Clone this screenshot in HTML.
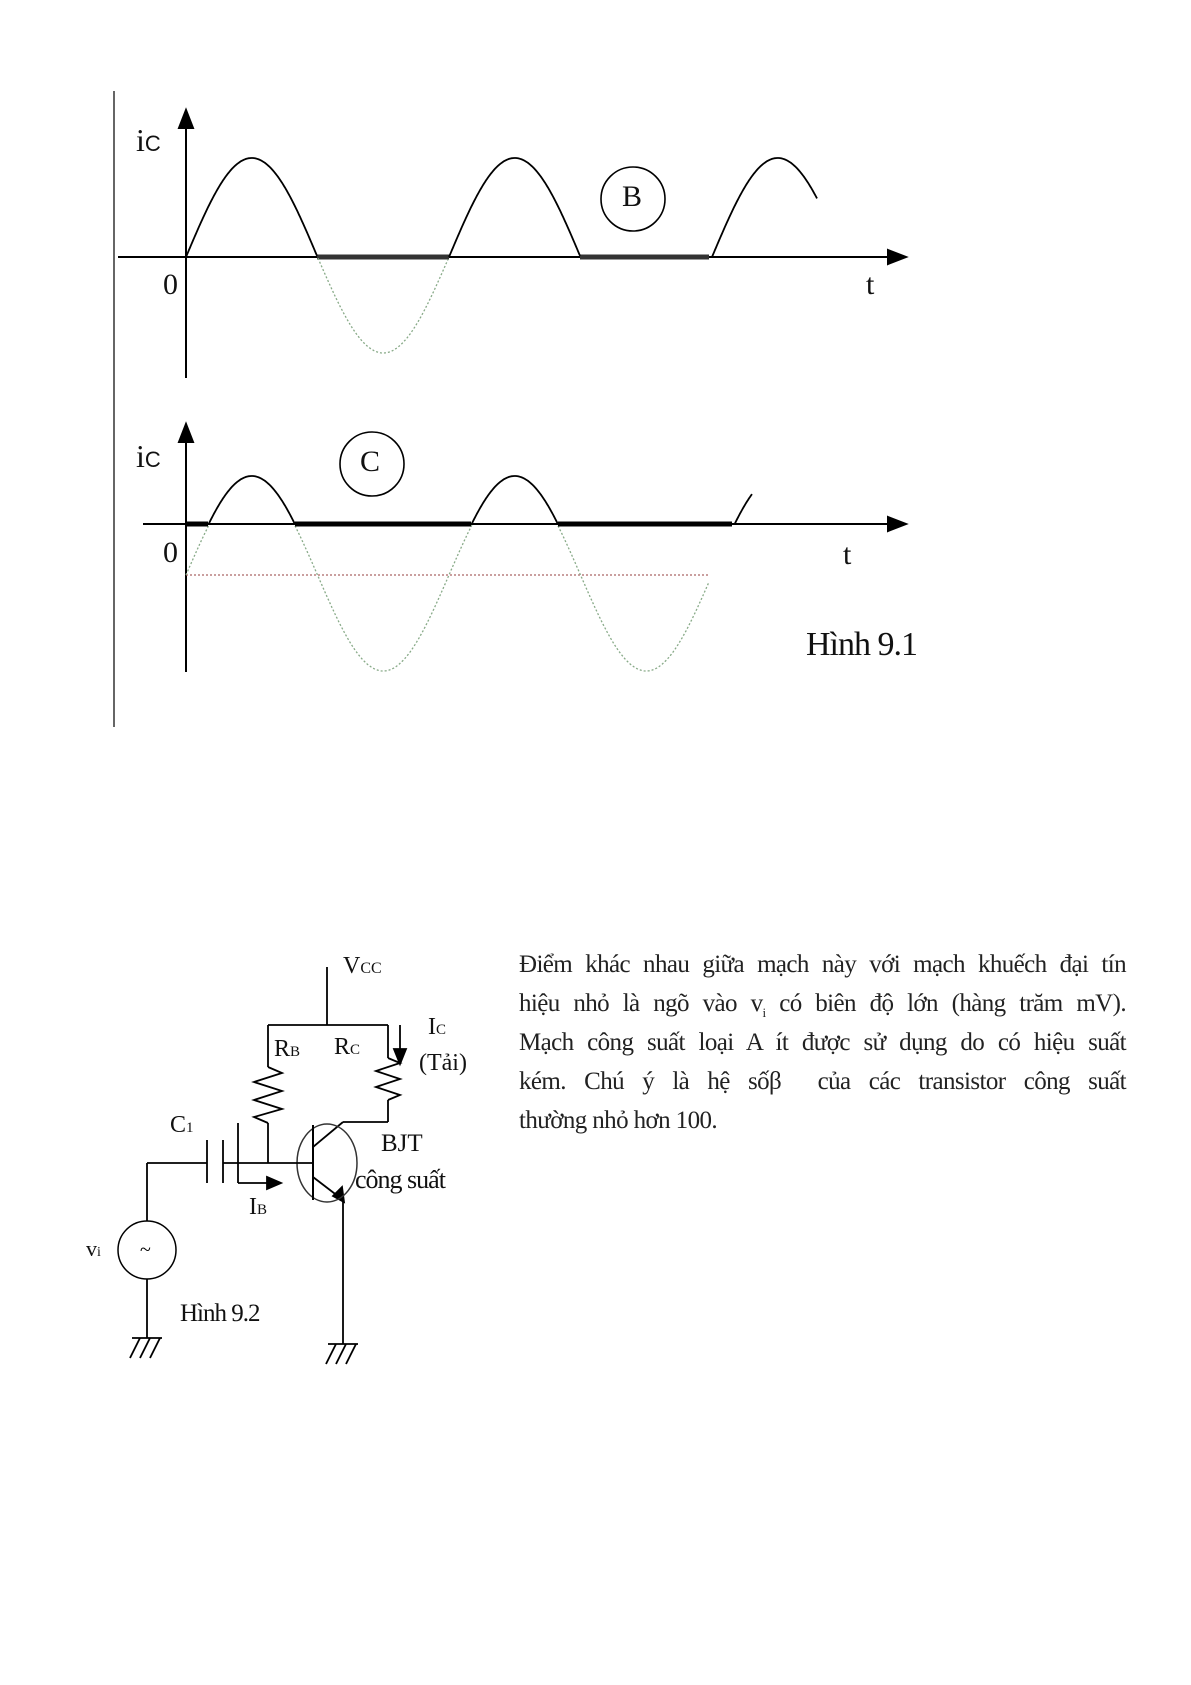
<!DOCTYPE html>
<html><head><meta charset="utf-8"><style>
html,body{margin:0;padding:0;background:#fff;}
body{width:1191px;height:1685px;position:relative;overflow:hidden;font-family:"Liberation Serif",serif;}
.t{position:absolute;font-family:"Liberation Serif",serif;color:#111;white-space:nowrap;}
.p{position:absolute;left:519px;width:607px;font-size:25px;color:#222;letter-spacing:-0.6px;}
.p div{height:39px;line-height:39px;text-align:justify;text-align-last:justify;white-space:nowrap;}
</style></head><body>
<svg id="s" width="1191" height="1685" style="position:absolute;left:0;top:0" xmlns="http://www.w3.org/2000/svg">
<g stroke="#000" fill="none" stroke-width="2">
<line x1="114" y1="91" x2="114" y2="727" stroke="#333" stroke-width="1.5"/>
<line x1="186" y1="378" x2="186" y2="126"/><path d="M179,128 L186,110 L193,128z" fill="#000"/>
<line x1="118" y1="257" x2="890" y2="257"/><path d="M888,250 L906,257 L888,264z" fill="#000"/>
<line x1="317" y1="257" x2="449" y2="257" stroke-width="5" stroke="#333"/>
<line x1="580" y1="257" x2="709" y2="257" stroke-width="5" stroke="#333"/>
<circle cx="633" cy="199" r="32" stroke-width="1.6"/>
<line x1="186" y1="672" x2="186" y2="440"/><path d="M179,442 L186,424 L193,442z" fill="#000"/>
<line x1="143" y1="524" x2="890" y2="524"/><path d="M888,517 L906,524 L888,531z" fill="#000"/>
<line x1="186" y1="575" x2="709" y2="575" stroke="#a66" stroke-width="1.2" stroke-dasharray="2,2"/>
<circle cx="372" cy="464" r="32" stroke-width="1.6"/>
<path id="pB" stroke-width="1.8"/><path id="pBd" stroke="#8a8" stroke-width="1.3" stroke-dasharray="2,2"/>
<path id="pC" stroke-width="1.8"/><path id="pCd" stroke="#8a8" stroke-width="1.3" stroke-dasharray="2,2"/>
<path id="pCt" stroke-width="5"/>
<g stroke-width="1.8">
<line x1="327" y1="967" x2="327" y2="1025"/>
<line x1="268" y1="1025" x2="388" y2="1025"/>
<line x1="268" y1="1025" x2="268" y2="1067"/>
<polyline points="268,1067 282,1073 254,1082 282,1091 254,1100 282,1109 254,1117 268,1123"/>
<line x1="268" y1="1123" x2="268" y2="1163"/>
<line x1="388" y1="1025" x2="388" y2="1058"/>
<polyline points="388,1058 400,1063 376,1071 400,1079 376,1087 400,1095 388,1100"/>
<line x1="388" y1="1100" x2="388" y2="1122"/>
<line x1="388" y1="1122" x2="343" y2="1122"/>
<line x1="343" y1="1122" x2="313" y2="1147"/>
<line x1="313" y1="1177" x2="343" y2="1200"/>
<line x1="343" y1="1200" x2="343" y2="1344"/>
<path d="M333,1196 L344,1202 L342,1187z" fill="#000"/>
<ellipse cx="327" cy="1163" rx="30" ry="39" stroke-width="1.5" stroke="#333"/>
<line x1="313" y1="1125" x2="313" y2="1200" stroke-width="2"/>
<line x1="223" y1="1163" x2="313" y2="1163"/>
<line x1="207" y1="1140" x2="207" y2="1183"/>
<line x1="223" y1="1140" x2="223" y2="1183"/>
<line x1="147" y1="1163" x2="207" y2="1163"/>
<line x1="147" y1="1163" x2="147" y2="1221"/>
<circle cx="147" cy="1250" r="29" stroke-width="1.5"/>
<line x1="147" y1="1279" x2="147" y2="1338"/>
<line x1="132" y1="1338" x2="162" y2="1338"/>
<line x1="140" y1="1338" x2="130" y2="1358"/><line x1="150" y1="1338" x2="140" y2="1358"/><line x1="160" y1="1338" x2="150" y2="1358"/>
<line x1="328" y1="1344" x2="358" y2="1344"/>
<line x1="336" y1="1344" x2="326" y2="1364"/><line x1="346" y1="1344" x2="336" y2="1364"/><line x1="356" y1="1344" x2="346" y2="1364"/>
<line x1="400" y1="1025" x2="400" y2="1056"/><path d="M394,1049 L400,1064 L406,1049z" fill="#000"/>
<line x1="238" y1="1123" x2="238" y2="1183"/><line x1="238" y1="1183" x2="274" y2="1183"/><path d="M267,1177 L281,1183 L267,1189z" fill="#000"/>
</g>
</g>
<text x="140" y="1256" font-family="Liberation Serif" font-size="20" fill="#000">~</text>
</svg>
<script>
var P=263;
function sine(xs,xe,yc,A,filter){var d='',on=false;for(var x=xs;x<=xe;x+=1){var y=yc-A*Math.sin(2*Math.PI*(x-186)/P);if(filter(y)){d+=(on?'L':'M')+x.toFixed(1)+','+y.toFixed(1);on=true;}else on=false;}return d;}
document.getElementById('pB').setAttribute('d',sine(186,817,257,99,function(y){return y<=257.5}));
document.getElementById('pBd').setAttribute('d',sine(317,449,257,96,function(y){return y>257}));
document.getElementById('pC').setAttribute('d',sine(186,752,575,99,function(y){return y<=524.5}));
document.getElementById('pCd').setAttribute('d',sine(186,709,575,96,function(y){return y>524}));
var d='',on=false;for(var x=186;x<=732;x++){var y=575-99*Math.sin(2*Math.PI*(x-186)/P);if(y>524){d+=(on?'L':'M')+x+',524';on=true;}else on=false;}
document.getElementById('pCt').setAttribute('d',d);
</script>
<div class="t" style="left:136px;top:122px;font-size:32px;">i<span style="font-size:22px;font-family:'Liberation Sans',sans-serif">C</span></div>
<div class="t" style="left:163px;top:268px;font-size:30px;">0</div>
<div class="t" style="left:866px;top:268px;font-size:30px;">t</div>
<div class="t" style="left:622px;top:180px;font-size:30px;">B</div>
<div class="t" style="left:136px;top:438px;font-size:32px;">i<span style="font-size:22px;font-family:'Liberation Sans',sans-serif">C</span></div>
<div class="t" style="left:163px;top:536px;font-size:30px;">0</div>
<div class="t" style="left:843px;top:538px;font-size:30px;">t</div>
<div class="t" style="left:360px;top:445px;font-size:30px;">C</div>
<div class="t" style="left:806px;top:626px;font-size:34px;letter-spacing:-1px;">Hình 9.1</div>

<div class="t" style="left:343px;top:953px;font-size:24px;">V<span style="font-size:16px">CC</span></div>
<div class="t" style="left:274px;top:1036px;font-size:24px;">R<span style="font-size:15px">B</span></div>
<div class="t" style="left:334px;top:1034px;font-size:24px;">R<span style="font-size:15px">C</span></div>
<div class="t" style="left:428px;top:1014px;font-size:24px;">I<span style="font-size:15px">C</span></div>
<div class="t" style="left:419px;top:1050px;font-size:24px;">(Tải)</div>
<div class="t" style="left:381px;top:1130px;font-size:25px;">BJT</div>
<div class="t" style="left:355px;top:1165px;font-size:26px;letter-spacing:-1px;">công suất</div>
<div class="t" style="left:170px;top:1112px;font-size:24px;">C<span style="font-size:15px">1</span></div>
<div class="t" style="left:249px;top:1194px;font-size:24px;">I<span style="font-size:15px">B</span></div>
<div class="t" style="left:86px;top:1236px;font-size:22px;">v<span style="font-size:14px">i</span></div>
<div class="t" style="left:180px;top:1300px;font-size:25px;letter-spacing:-1px;">Hình 9.2</div>

<div class="p" style="top:945px;">
<div>Điểm khác nhau giữa mạch này với mạch khuếch đại tín</div>
<div>hiệu nhỏ là ngõ vào v<sub style="font-size:13px">i</sub> có biên độ lớn (hàng trăm mV).</div>
<div>Mạch công suất loại A ít được sử dụng do có hiệu suất</div>
<div>kém. Chú ý là hệ sốβ&nbsp; của các transistor công suất</div>
<div style="text-align-last:left">thường nhỏ hơn 100.</div>
</div>
</body></html>
